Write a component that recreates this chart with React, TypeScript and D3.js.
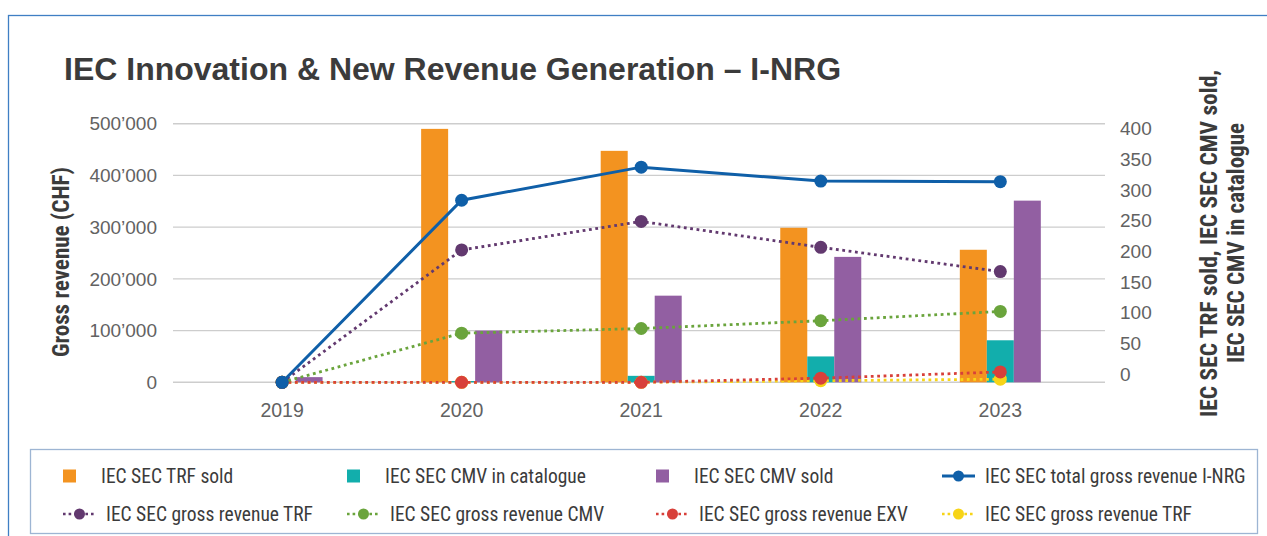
import * as d3 from 'd3';
import React, { useEffect, useRef } from 'react';

// chart values
const years = ['2019', '2020', '2021', '2022', '2023'];
const trfSold = [0, 392, 358, 239, 205];
const cmvCatalogue = [0, 2, 10, 40, 65];
const cmvSold = [8, 80, 134, 194, 281];
const totalRevenue = [0, 352000, 416000, 389000, 388000];
const revenueTRF = [0, 256000, 311000, 261000, 214000];
const revenueCMV = [0, 95000, 104000, 119000, 137000];
const revenueEXV = [0, 0, 0, 8000, 20000];
const revenueTRF2 = [0, 0, 0, 3000, 6000];
const leftTicks = [0, 100000, 200000, 300000, 400000, 500000];
const rightTicks = [0, 50, 100, 150, 200, 250, 300, 350, 400];

const W = 1267;
const H = 536;
const SANS = "'Liberation Sans', Arial, Helvetica, sans-serif";
const NARROW = "'Liberation Sans Narrow', 'Arial Narrow', 'Roboto Condensed', 'DejaVu Sans Condensed', 'Liberation Sans', Arial, sans-serif";

const bars = [
    { key: 'trf', label: 'IEC SEC TRF sold', values: trfSold, color: '#f39320' },
    { key: 'cat', label: 'IEC SEC CMV in catalogue', values: cmvCatalogue, color: '#12aeac' },
    { key: 'cmv', label: 'IEC SEC CMV sold', values: cmvSold, color: '#925fa2' },
];

const lines = [
    { key: 'total', label: 'IEC SEC total gross revenue I-NRG', values: totalRevenue, color: '#0f5fa8', dotted: false },
    { key: 'rtrf', label: 'IEC SEC gross revenue TRF', values: revenueTRF, color: '#62396f', dotted: true },
    { key: 'rcmv', label: 'IEC SEC gross revenue CMV', values: revenueCMV, color: '#6aa43c', dotted: true },
    { key: 'rexv', label: 'IEC SEC gross revenue EXV', values: revenueEXV, color: '#d8403a', dotted: true },
    { key: 'rtrf2', label: 'IEC SEC gross revenue TRF', values: revenueTRF2, color: '#f7d417', dotted: true },
];

function draw(node: SVGSVGElement) {
    const svg = d3.select(node);
    svg.selectAll('*').remove();

    const x = d3.scaleBand().domain(years).range([192.3, 1090.1]).padding(0);
    const x1 = d3.scaleBand().domain(bars.map((b) => b.key)).range([-40.5, 40.5]).padding(0);
    const yL = d3.scaleLinear().domain([0, 500000]).range([382.3, 123.7]);
    const yR = d3.scaleLinear().domain([0, 400]).range([382.3, 123.7]);
    // right labels sit a little off the gridlines in the original
    const yRLabel = d3.scaleLinear().domain([0, 400]).range([374, 128.5]);
    const cx = (yr: string) => (x(yr) as number) + x.bandwidth() / 2;

    const fmt = d3.formatLocale({ thousands: '\u2019', grouping: [3], decimal: '.', currency: ['', ''] }).format(',');

    svg.append('rect').attr('width', W).attr('height', H).attr('fill', '#fff');
    svg.append('rect')
        .attr('x', 8.5).attr('y', 15.5).attr('width', 1280).attr('height', 600)
        .attr('fill', 'none').attr('stroke', '#3f7fc4').attr('stroke-width', 1.3);

    svg.append('text')
        .attr('x', 64).attr('y', 79.5)
        .attr('font-family', SANS).attr('font-weight', 'bold').attr('font-size', 32)
        .attr('fill', '#3b3b3b')
        .text('IEC Innovation & New Revenue Generation \u2013 I-NRG');

    // grid
    svg.append('g').selectAll('line').data(leftTicks).enter().append('line')
        .attr('x1', 173).attr('x2', 1105)
        .attr('y1', (d) => yL(d)).attr('y2', (d) => yL(d))
        .attr('stroke', '#cdcdcd').attr('stroke-width', 1.4);

    svg.append('g').selectAll('text').data(leftTicks).enter().append('text')
        .attr('x', 157).attr('y', (d) => yL(d)).attr('dy', '0.35em')
        .attr('text-anchor', 'end')
        .attr('font-family', SANS).attr('font-size', 19).attr('fill', '#626262')
        .text((d) => fmt(d));

    svg.append('g').selectAll('text').data(rightTicks).enter().append('text')
        .attr('x', 1120).attr('y', (d) => yRLabel(d)).attr('dy', '0.35em')
        .attr('font-family', SANS).attr('font-size', 19).attr('fill', '#626262')
        .text((d) => d);

    svg.append('g').selectAll('text').data(years).enter().append('text')
        .attr('x', (d) => cx(d)).attr('y', 416.5)
        .attr('text-anchor', 'middle')
        .attr('font-family', SANS).attr('font-size', 19.5).attr('fill', '#626262')
        .text((d) => d);

    svg.append('text')
        .attr('transform', 'translate(69,262) rotate(-90)')
        .attr('text-anchor', 'middle')
        .attr('font-family', NARROW).attr('font-weight', 'bold').attr('font-size', 24)
        .attr('fill', '#3b3b3b')
        .attr('textLength', 190).attr('lengthAdjust', 'spacingAndGlyphs')
        .text('Gross revenue (CHF)');

    svg.append('text')
        .attr('transform', 'translate(1217,243.5) rotate(-90)')
        .attr('text-anchor', 'middle')
        .attr('font-family', NARROW).attr('font-weight', 'bold').attr('font-size', 23)
        .attr('fill', '#3b3b3b')
        .attr('textLength', 347).attr('lengthAdjust', 'spacingAndGlyphs')
        .text('IEC SEC TRF sold, IEC SEC CMV sold,');
    svg.append('text')
        .attr('transform', 'translate(1244,243) rotate(-90)')
        .attr('text-anchor', 'middle')
        .attr('font-family', NARROW).attr('font-weight', 'bold').attr('font-size', 23)
        .attr('fill', '#3b3b3b')
        .attr('textLength', 240).attr('lengthAdjust', 'spacingAndGlyphs')
        .text('IEC SEC CMV in catalogue');

    // bars on the right axis
    bars.forEach((b) => {
        svg.append('g').selectAll('rect').data(b.values).enter().append('rect')
            .attr('x', (d, i) => cx(years[i]) + (x1(b.key) as number))
            .attr('y', (d) => yR(d))
            .attr('width', x1.bandwidth())
            .attr('height', (d) => yR(0) - yR(d))
            .attr('fill', b.color);
    });

    // lines on the left axis, drawn bottom-up so the total sits on top
    const lineGen = d3.line<number>()
        .x((d, i) => cx(years[i]))
        .y((d) => yL(d));
    lines.slice().reverse().forEach((l) => {
        const g = svg.append('g');
        g.append('path')
            .attr('d', lineGen(l.values))
            .attr('fill', 'none')
            .attr('stroke', l.color)
            .attr('stroke-width', l.dotted ? 2.8 : 3)
            .attr('stroke-dasharray', l.dotted ? '2.8 3.6' : null);
        g.selectAll('circle').data(l.values).enter().append('circle')
            .attr('cx', (d, i) => cx(years[i]))
            .attr('cy', (d) => yL(d))
            .attr('r', 6.5)
            .attr('fill', l.color);
    });

    // legend
    svg.append('rect')
        .attr('x', 30.5).attr('y', 449.5).attr('width', 1227).attr('height', 84)
        .attr('fill', 'none').attr('stroke', '#9db5d3').attr('stroke-width', 1.3);

    const cols = [63, 347, 656, 942];
    const legendItems = [
        { kind: 'bar', item: bars[0] },
        { kind: 'bar', item: bars[1] },
        { kind: 'bar', item: bars[2] },
        { kind: 'line', item: lines[0] },
        { kind: 'line', item: lines[1] },
        { kind: 'line', item: lines[2] },
        { kind: 'line', item: lines[3] },
        { kind: 'line', item: lines[4] },
    ];
    legendItems.forEach((it, i) => {
        const col = i % 4;
        const row = Math.floor(i / 4);
        const lx = cols[col];
        const ly = row === 0 ? 476 : 514;
        const g = svg.append('g');
        if (it.kind === 'bar') {
            g.append('rect')
                .attr('x', lx).attr('y', ly - 6.5).attr('width', 13).attr('height', 13)
                .attr('fill', it.item.color);
        } else {
            const l = it.item as typeof lines[0];
            g.append('line')
                .attr('x1', lx).attr('x2', lx + 33).attr('y1', ly).attr('y2', ly)
                .attr('stroke', l.color).attr('stroke-width', l.dotted ? 2.6 : 3)
                .attr('stroke-dasharray', l.dotted ? '2.6 3' : null);
            g.append('circle').attr('cx', lx + 16.5).attr('cy', ly).attr('r', 5.5).attr('fill', l.color);
        }
        const tx = it.kind === 'bar' ? lx + 38 : lx + 43;
        g.append('text')
            .attr('x', tx).attr('y', ly).attr('dy', '0.36em')
            .attr('font-family', NARROW).attr('font-size', 19.5).attr('fill', '#3b3b3b')
            .text(it.item.label);
    });
}

export default function App() {
    const ref = useRef<SVGSVGElement>(null);
    useEffect(() => {
        if (ref.current) draw(ref.current);
    }, []);
    return (
        <svg ref={ref} width={W} height={H}
            style={{ position: 'absolute', left: 0, top: 0, display: 'block' }} />
    );
}
